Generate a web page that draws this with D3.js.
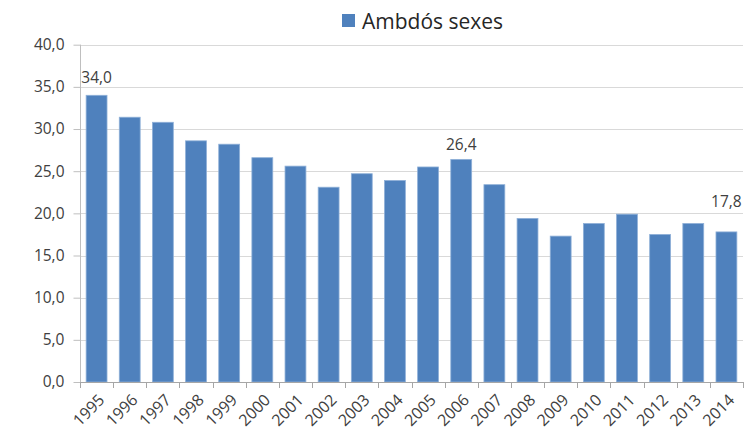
<!DOCTYPE html>
<html>
<head>
<meta charset="utf-8">
<script src="https://cdn.jsdelivr.net/npm/d3@7"></script>
<style>
  body { margin: 0; background: #fff; }
  text { font-family: 'Open Sans', sans-serif; }
</style>
</head>
<body>
<script>
// chart data
var years = ["1995", "1996", "1997", "1998", "1999", "2000", "2001", "2002", "2003", "2004",
             "2005", "2006", "2007", "2008", "2009", "2010", "2011", "2012", "2013", "2014"]
var values = [34.0, 31.4, 30.8, 28.6, 28.2, 26.6, 25.6, 23.1, 24.7, 23.9,
              25.5, 26.4, 23.4, 19.4, 17.3, 18.8, 19.9, 17.5, 18.8, 17.8]
var yTicks = [0, 5, 10, 15, 20, 25, 30, 35, 40]
var labelledYears = ["1995", "2006", "2014"]
var seriesName = "Ambdós sexes"

var rows = years.map(function(y, i) { return { year: y, value: values[i] } })

// image dimensions
var w = 749
var h = 431
var plotLeft = 80, plotRight = 743, plotTop = 44.7, plotBottom = 382

var svg = d3.select("body")
    .append("svg")
    .attr("width", w)
    .attr("height", h)

var xScale = d3.scaleBand()
    .domain(years)
    .range([plotLeft, plotRight])
    .paddingInner(0.37)
    .paddingOuter(0.185)

var yScale = d3.scaleLinear()
    .domain([0, 40])
    .range([plotBottom, plotTop])

var fmt = function(v) { return d3.format(".1f")(v).replace(".", ",") }

// gridlines
svg.append("g")
    .selectAll("line")
    .data(yTicks.filter(function(t) { return t > 0 }))
    .enter()
    .append("line")
    .attr("x1", plotLeft)
    .attr("x2", plotRight)
    .attr("y1", function(d) { return Math.round(yScale(d)) + 0.5 })
    .attr("y2", function(d) { return Math.round(yScale(d)) + 0.5 })
    .attr("stroke", "#d9d9d9")
    .attr("stroke-width", 1)

// y axis
var yAxis = d3.axisLeft(yScale)
    .tickValues(yTicks)
    .tickFormat(fmt)
    .tickSize(7)
    .tickPadding(9)

var gy = svg.append("g")
    .attr("transform", "translate(" + (plotLeft + 0.5) + ",0)")
    .call(yAxis)
gy.select(".domain").attr("stroke", "#bfbfbf").attr("d", "M0," + yScale(40) + "V" + plotBottom)
gy.selectAll(".tick line").attr("stroke", "#bfbfbf")
gy.selectAll(".tick text")
    .attr("fill", "#404040")
    .attr("font-size", "15.5px")
    .attr("font-family", "'Open Sans', sans-serif")

// bars
svg.append("g")
    .selectAll("rect")
    .data(rows)
    .enter()
    .append("rect")
    .attr("x", function(d) { return xScale(d.year) })
    .attr("y", function(d) { return yScale(d.value) })
    .attr("width", xScale.bandwidth())
    .attr("height", function(d) { return plotBottom - yScale(d.value) })
    .attr("fill", "#4f81bd")
    .attr("stroke", "#8fb0d8")
    .attr("stroke-width", 0.8)

// x axis: ticks on band boundaries
var boundaries = d3.range(years.length + 1).map(function(i) {
    return plotLeft + i * (plotRight - plotLeft) / years.length
})
var gx = svg.append("g")
gx.append("line")
    .attr("x1", plotLeft).attr("x2", plotRight)
    .attr("y1", plotBottom + 0.5).attr("y2", plotBottom + 0.5)
    .attr("stroke", "#a6a6a6")
gx.selectAll("line.tk")
    .data(boundaries)
    .enter()
    .append("line")
    .attr("class", "tk")
    .attr("x1", function(d) { return Math.round(d) + 0.5 })
    .attr("x2", function(d) { return Math.round(d) + 0.5 })
    .attr("y1", plotBottom)
    .attr("y2", plotBottom + 6)
    .attr("stroke", "#a6a6a6")

// rotated year labels
gx.selectAll("text")
    .data(years)
    .enter()
    .append("text")
    .attr("text-anchor", "end")
    .attr("font-size", "16px")
    .attr("fill", "#404040")
    .attr("transform", function(d) {
        var cx = xScale(d) + xScale.bandwidth() / 2 + 9
        return "translate(" + cx + "," + (plotBottom + 19) + ") rotate(-45)"
    })
    .text(function(d) { return d })

// data labels
var labelLift = { "1995": 12, "2006": 9, "2014": 25 }
svg.append("g")
    .selectAll("text")
    .data(rows.filter(function(d) { return labelledYears.indexOf(d.year) >= 0 }))
    .enter()
    .append("text")
    .attr("text-anchor", "middle")
    .attr("font-size", "15.5px")
    .attr("fill", "#404040")
    .attr("x", function(d) { return xScale(d.year) + xScale.bandwidth() / 2 })
    .attr("y", function(d) { return yScale(d.value) - labelLift[d.year] })
    .text(function(d) { return fmt(d.value) })

// legend
var legend = svg.append("g").attr("transform", "translate(342,14)")
legend.append("rect")
    .attr("width", 13)
    .attr("height", 13)
    .attr("fill", "#4f81bd")
legend.append("text")
    .attr("x", 20)
    .attr("y", 14.5)
    .attr("font-size", "21px")
    .attr("fill", "#262626")
    .text(seriesName)
</script>
</body>
</html>
